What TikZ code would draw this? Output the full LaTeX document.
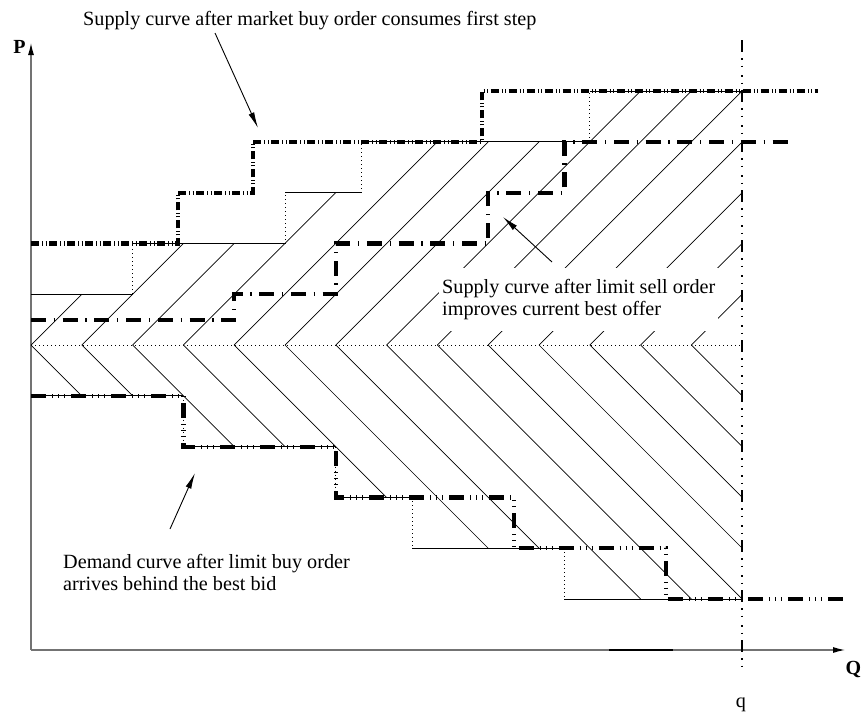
\documentclass[tikz,border=0pt]{standalone}
\usepackage{fontspec}
\setmainfont{Liberation Serif}
\usetikzlibrary{arrows.meta}
\begin{document}
\begin{tikzpicture}[x=1pt,y=-1pt,
  lab/.style={font=\fontsize{20.2}{22.5}\selectfont, inner sep=0pt},
  boldlab/.style={font=\fontsize{20}{24}\selectfont\bfseries, inner sep=0pt},
  thinline/.style={line width=0.8pt},
  dotline/.style={line width=0.8pt, dash pattern=on 0.8pt off 3.2pt},
  hatchline/.style={line width=0.7pt},
  supA/.style={line width=4.2pt, dash pattern=on 8pt off 3pt on 1pt off 2.5pt on 1pt off 2.5pt},
  supB/.style={line width=4.2pt, dash pattern=on 15pt off 7.7pt on 1.3pt off 7.7pt},
  demC/.style={line width=4.2pt, dash pattern=on 15pt off 6pt on 1pt off 5pt on 1pt off 5pt on 1pt off 6pt},
  qline/.style={line width=2.5pt, dash pattern=on 12pt off 6pt on 1.5pt off 6pt on 1.5pt off 8pt on 1.5pt off 6pt on 1.5pt off 6pt},
  axisline/.style={draw=black!55, line width=1.2pt, -{Latex[length=12pt,width=6pt,color=black]}},
  callout/.style={line width=0.9pt, -{Latex[length=16pt,width=6pt]}}
]
\useasboundingbox (0,0) rectangle (865,713);

% axes
\coordinate (O) at (31,650);
\coordinate (ytop) at (31,43);
\coordinate (xend) at (845,650);
\draw[axisline] (O) -- (ytop);
\draw[axisline] (O) -- (xend);
\draw[line width=1.2pt] (609,650) -- (673,650);

\begin{scope}[shift={(31,345)}, x=50.8pt, y=50.8pt]
  % original supply (thin)
  \draw[thinline] (0,1) -- (2,1);
  \draw[dotline] (2,1) -- (2,2);
  \draw[thinline] (2,2) -- (5,2);
  \draw[dotline] (5,2) -- (5,3);
  \draw[thinline] (5,3) -- (6.5,3);
  \draw[dotline] (6.5,3) -- (6.5,4);
  \draw[thinline] (6.5,4) -- (11,4);
  \draw[dotline] (11,4) -- (11,5);
  \draw[thinline] (11,5) -- (14,5);
  % original demand (thin)
  \draw[thinline] (0,-1) -- (3,-1);
  \draw[dotline] (3,-1) -- (3,-2);
  \draw[thinline] (3,-2) -- (6,-2);
  \draw[dotline] (6,-2) -- (6,-3);
  \draw[thinline] (6,-3) -- (7.5,-3);
  \draw[dotline] (7.5,-3) -- (7.5,-4);
  \draw[thinline] (7.5,-4) -- (10.5,-4);
  \draw[dotline] (10.5,-4) -- (10.5,-5);
  \draw[thinline] (10.5,-5) -- (14,-5);
  % mid line
  \draw[dotline] (0,0) -- (14,0);
  % hatching
  \foreach \k/\h in {0/1,1/2,2/2,3/3,4/4,5/4,6/4,7/5,8/5,9/5,10/4,11/3,12/2,13/1}
    \draw[hatchline] (\k,0) -- ++(\h,\h);
  \foreach \k/\h in {0/1,1/1,2/2,3/2,4/3,5/4,6/4,7/5,8/5,9/5,10/4,11/3,12/2,13/1}
    \draw[hatchline] (\k,0) -- ++(\h,-\h);
  % supply after limit sell order
  \draw[supB] (0,0.5) -- (4,0.5) -- (4,1) -- (6,1) -- (6,2) -- (9,2) -- (9,3)
     -- (10.5,3) -- (10.5,4) -- (15,4);
  % demand after limit buy order
  \draw[demC] (0,-1) -- (3,-1) -- (3,-2) -- (6,-2) -- (6,-3) -- (9.5,-3) -- (9.5,-4)
     -- (12.5,-4) -- (12.5,-5) -- (16,-5);
\end{scope}

% supply after market buy order
\draw[supA] (31,243.4) -- (178,243.4) -- (178,192.6) -- (253,192.6) -- (253,141.8)
   -- (482,141.8) -- (482,91) -- (818,91);

% quantity line
\coordinate (qtop) at (742,40);
\coordinate (qbot) at (742,675);
\draw[qline] (qtop) -- (qbot);

% labels
\node[boldlab, anchor=base] (P) at (19.5,53) {P};
\node[boldlab, anchor=base] (Q) at (853.5,674) {Q};
\node[lab, anchor=base] (qlab) at (741,707) {q};
\node[lab, anchor=base west] (lbltop) at (83,25) {Supply curve after market buy order consumes first step};
\node[lab, fill=white, align=left, anchor=north west, inner xsep=3pt, inner ysep=11pt] (lblsell) at (439,268)
  {Supply curve after limit sell order\\improves current best offer};
\node[lab, align=left, anchor=north west] (lbldem) at (63,554)
  {Demand curve after limit buy order\\arrives behind the best bid};

% callout arrows
\coordinate (c1s) at (215,33);
\coordinate (c1e) at (258,128);
\coordinate (c2s) at (552,262);
\coordinate (c2e) at (503,217);
\coordinate (c3s) at (170,529);
\coordinate (c3e) at (195,473);
\draw[callout] (c1s) -- (c1e);
\draw[callout] (c2s) -- (c2e);
\draw[callout] (c3s) -- (c3e);
\end{tikzpicture}
\end{document}
